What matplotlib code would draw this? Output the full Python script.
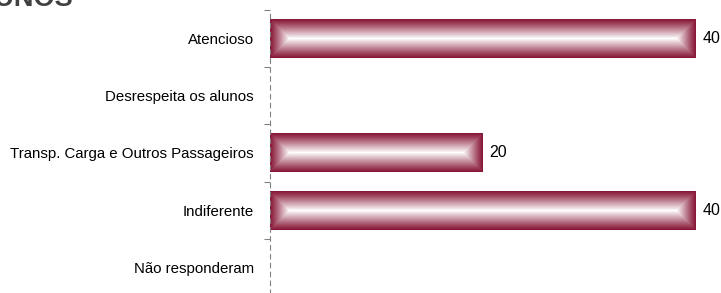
"""Horizontal bar chart with bevelled (pillow) bars."""

import matplotlib

matplotlib.use("Agg")
import matplotlib.pyplot as plt  # noqa: E402
import numpy as np  # noqa: E402

categories = [
    "Atencioso",
    "Desrespeita os alunos",
    "Transp. Carga e Outros Passageiros",
    "Indiferente",
    "Não responderam",
]
values = [40, 0, 20, 40, 0]
title = "ALUNOS"

EDGE = np.array([134, 20, 52]) / 255.0
WHITE = np.array([1.0, 1.0, 1.0])
BAR_H = 0.68

plt.rcParams["font.family"] = ["Liberation Sans", "DejaVu Sans"]

W, H, DPI = 721, 293, 100
fig = plt.figure(figsize=(W / DPI, H / DPI), dpi=DPI)
ax = fig.add_axes([270 / W, 1 - 296 / H, 426 / W, 286 / H])

n = len(categories)
px_per_x = 426 / 40
px_per_y = 286 / n


def bevel(w_px, h_px):
    """Colour image that fades from dark edge to white along the middle."""
    xs = np.arange(w_px) + 0.5
    ys = np.arange(h_px) + 0.5
    X, Y = np.meshgrid(xs, ys)
    d = np.minimum(np.minimum(X, w_px - X), np.minimum(Y, h_px - Y))
    t = np.clip(d / (h_px / 2.0), 0, 1) ** 1.1
    return EDGE[None, None, :] + (WHITE - EDGE)[None, None, :] * t[..., None]


for i, v in enumerate(values):
    if v <= 0:
        continue
    w_px = int(round(v * px_per_x))
    h_px = int(round(BAR_H * px_per_y))
    ax.imshow(
        bevel(w_px, h_px), extent=(0, v, i + BAR_H / 2, i - BAR_H / 2),
        aspect="auto", interpolation="nearest", zorder=2,
    )
    ax.annotate(
        f"{v}", (v, i), textcoords="offset points", xytext=(4.5, 0),
        va="center", ha="left", fontsize=11.5, color="black",
        annotation_clip=False,
    )

ax.set_xlim(0, 40)
ax.set_ylim(n - 0.5, -0.5)

ax.set_yticks(range(n))
ax.set_yticklabels(categories, fontsize=10.8)
ax.set_yticks(np.arange(n + 1) - 0.5, minor=True)
ax.tick_params(axis="y", which="major", length=0, pad=11.5)
ax.tick_params(axis="y", which="minor", length=4.5, color="#808080", width=0.8)
ax.set_xticks([])

for s in ["top", "right", "bottom"]:
    ax.spines[s].set_visible(False)
ax.spines["left"].set_color("#808080")
ax.spines["left"].set_linewidth(0.8)
ax.spines["left"].set_linestyle((0, (4, 4)))
ax.patch.set_alpha(0)

fig.text(73 / W, 1 - 5.5 / H, title, ha="right", va="baseline",
         fontsize=19.5, fontweight="bold", color="#404040")

fig.savefig("out.png", dpi=DPI)
